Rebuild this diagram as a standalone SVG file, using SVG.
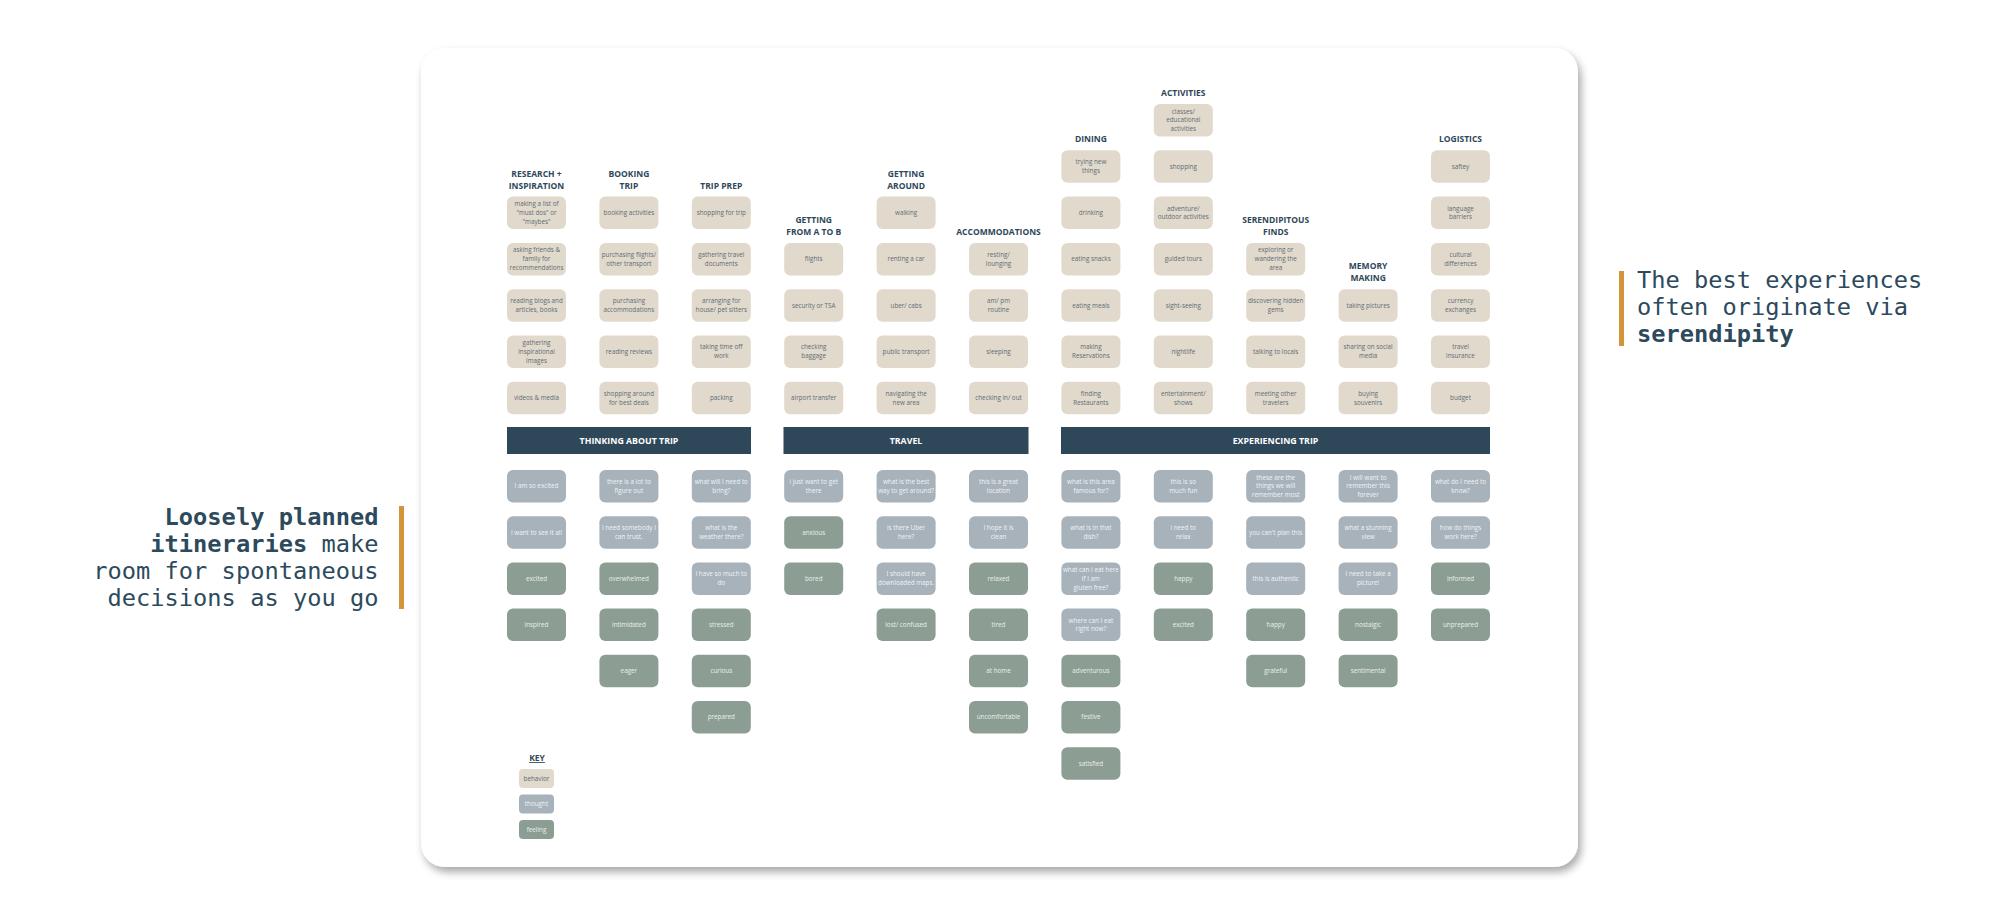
<svg xmlns="http://www.w3.org/2000/svg" width="2000" height="905" viewBox="0 0 2000 905">
<defs>
  <filter id="cardShadow" x="-5%" y="-5%" width="110%" height="112%">
    <feGaussianBlur in="SourceAlpha" stdDeviation="4"/>
    <feOffset dx="3" dy="5" result="blur"/>
    <feComponentTransfer><feFuncA type="linear" slope="0.35"/></feComponentTransfer>
    <feMerge><feMergeNode/><feMergeNode in="SourceGraphic"/></feMerge>
  </filter>
  <style>
    .bh { fill: #e1d9cc; }
    .th { fill: #a7b2ba; }
    .fe { fill: #8c9e94; }
    .bn { fill: #2e4759; }
    .tb { font-family: 'Open Sans', 'Liberation Sans', sans-serif; font-size: 6.3px; fill: #5e6d74; text-anchor: middle; }
    .tt { font-family: 'Open Sans', 'Liberation Sans', sans-serif; font-size: 6.3px; fill: #f1f3f5; text-anchor: middle; }
    .tf { font-family: 'Open Sans', 'Liberation Sans', sans-serif; font-size: 6.3px; fill: #e9eeeb; text-anchor: middle; }
    .hd { font-family: 'Open Sans', 'Liberation Sans', sans-serif; font-size: 8.5px; font-weight: 700; fill: #2e4759; text-anchor: middle; }
    .bt { font-family: 'Open Sans', 'Liberation Sans', sans-serif; font-size: 8.8px; font-weight: 700; fill: #ffffff; text-anchor: middle; }
    .mono { font-family: 'DejaVu Sans Mono', 'Liberation Mono', monospace; font-size: 23.7px; fill: #2c4a5c; }
    .b { font-weight: 700; }
    .bar { fill: #d4953a; }
  </style>
</defs>

<!-- side notes -->
<g id="note-left">
  <rect class="bar" x="399" y="506" width="5" height="103"/>
  <text class="mono" x="378.5" y="525" text-anchor="end"><tspan class="b">Loosely planned</tspan></text>
  <text class="mono" x="378.5" y="552" text-anchor="end"><tspan class="b">itineraries</tspan> make</text>
  <text class="mono" x="378.5" y="579" text-anchor="end">room for spontaneous</text>
  <text class="mono" x="378.5" y="606" text-anchor="end">decisions as you go</text>
</g>
<g id="note-right">
  <rect class="bar" x="1619" y="271" width="5" height="75"/>
  <text class="mono" x="1637" y="288">The best experiences</text>
  <text class="mono" x="1637" y="315">often originate via</text>
  <text class="mono" x="1637" y="342"><tspan class="b">serendipity</tspan></text>
</g>

<!-- card -->
<rect id="card" x="421" y="48" width="1157" height="819" rx="24" fill="#ffffff" filter="url(#cardShadow)"/>

<!-- column headers -->
<g id="headers">
  <text class="hd" x="536.5" y="176.6">RESEARCH +<tspan x="536.5" dy="12">INSPIRATION</tspan></text>
  <text class="hd" x="628.9" y="176.6">BOOKING<tspan x="628.9" dy="12">TRIP</tspan></text>
  <text class="hd" x="721.3" y="188.6">TRIP PREP</text>
  <text class="hd" x="813.7" y="222.9">GETTING<tspan x="813.7" dy="12">FROM A TO B</tspan></text>
  <text class="hd" x="906.1" y="176.6">GETTING<tspan x="906.1" dy="12">AROUND</tspan></text>
  <text class="hd" x="998.5" y="234.9">ACCOMMODATIONS</text>
  <text class="hd" x="1090.9" y="142.3">DINING</text>
  <text class="hd" x="1183.3" y="96">ACTIVITIES</text>
  <text class="hd" x="1275.7" y="222.9">SERENDIPITOUS<tspan x="1275.7" dy="12">FINDS</tspan></text>
  <text class="hd" x="1368.1" y="269.2">MEMORY<tspan x="1368.1" dy="12">MAKING</tspan></text>
  <text class="hd" x="1460.5" y="142.3">LOGISTICS</text>
</g>

<!-- behaviors: research + inspiration -->
<g id="b-research-1"><rect class="bh" x="507" y="196.6" width="59" height="32.5" rx="6"/><text class="tb" x="536.5" y="206.1">making a list of<tspan x="536.5" dy="8.8">"must dos" or</tspan><tspan x="536.5" dy="8.8">"maybes"</tspan></text></g>
<g id="b-research-2"><rect class="bh" x="507" y="242.9" width="59" height="32.5" rx="6"/><text class="tb" x="536.5" y="252.4">asking friends &amp;<tspan x="536.5" dy="8.8">family for</tspan><tspan x="536.5" dy="8.8">recommendations</tspan></text></g>
<g id="b-research-3"><rect class="bh" x="507" y="289.2" width="59" height="32.5" rx="6"/><text class="tb" x="536.5" y="303.1">reading blogs and<tspan x="536.5" dy="8.8">articles, books</tspan></text></g>
<g id="b-research-4"><rect class="bh" x="507" y="335.5" width="59" height="32.5" rx="6"/><text class="tb" x="536.5" y="345">gathering<tspan x="536.5" dy="8.8">inspirational</tspan><tspan x="536.5" dy="8.8">images</tspan></text></g>
<g id="b-research-5"><rect class="bh" x="507" y="381.8" width="59" height="32.5" rx="6"/><text class="tb" x="536.5" y="400.1">videos &amp; media</text></g>

<!-- behaviors: booking trip -->
<g id="b-booking-1"><rect class="bh" x="599.4" y="196.6" width="59" height="32.5" rx="6"/><text class="tb" x="628.9" y="214.9">booking activities</text></g>
<g id="b-booking-2"><rect class="bh" x="599.4" y="242.9" width="59" height="32.5" rx="6"/><text class="tb" x="628.9" y="256.8">purchasing flights/<tspan x="628.9" dy="8.8">other transport</tspan></text></g>
<g id="b-booking-3"><rect class="bh" x="599.4" y="289.2" width="59" height="32.5" rx="6"/><text class="tb" x="628.9" y="303.1">purchasing<tspan x="628.9" dy="8.8">accommodations</tspan></text></g>
<g id="b-booking-4"><rect class="bh" x="599.4" y="335.5" width="59" height="32.5" rx="6"/><text class="tb" x="628.9" y="353.8">reading reviews</text></g>
<g id="b-booking-5"><rect class="bh" x="599.4" y="381.8" width="59" height="32.5" rx="6"/><text class="tb" x="628.9" y="395.7">shopping around<tspan x="628.9" dy="8.8">for best deals</tspan></text></g>

<!-- behaviors: trip prep -->
<g id="b-prep-1"><rect class="bh" x="691.8" y="196.6" width="59" height="32.5" rx="6"/><text class="tb" x="721.3" y="214.9">shopping for trip</text></g>
<g id="b-prep-2"><rect class="bh" x="691.8" y="242.9" width="59" height="32.5" rx="6"/><text class="tb" x="721.3" y="256.8">gathering travel<tspan x="721.3" dy="8.8">documents</tspan></text></g>
<g id="b-prep-3"><rect class="bh" x="691.8" y="289.2" width="59" height="32.5" rx="6"/><text class="tb" x="721.3" y="303.1">arranging for<tspan x="721.3" dy="8.8">house/ pet sitters</tspan></text></g>
<g id="b-prep-4"><rect class="bh" x="691.8" y="335.5" width="59" height="32.5" rx="6"/><text class="tb" x="721.3" y="349.4">taking time off<tspan x="721.3" dy="8.8">work</tspan></text></g>
<g id="b-prep-5"><rect class="bh" x="691.8" y="381.8" width="59" height="32.5" rx="6"/><text class="tb" x="721.3" y="400.1">packing</text></g>

<!-- behaviors: getting from a to b -->
<g id="b-atob-1"><rect class="bh" x="784.2" y="242.9" width="59" height="32.5" rx="6"/><text class="tb" x="813.7" y="261.2">flights</text></g>
<g id="b-atob-2"><rect class="bh" x="784.2" y="289.2" width="59" height="32.5" rx="6"/><text class="tb" x="813.7" y="307.5">security or TSA</text></g>
<g id="b-atob-3"><rect class="bh" x="784.2" y="335.5" width="59" height="32.5" rx="6"/><text class="tb" x="813.7" y="349.4">checking<tspan x="813.7" dy="8.8">baggage</tspan></text></g>
<g id="b-atob-4"><rect class="bh" x="784.2" y="381.8" width="59" height="32.5" rx="6"/><text class="tb" x="813.7" y="400.1">airport transfer</text></g>

<!-- behaviors: getting around -->
<g id="b-around-1"><rect class="bh" x="876.6" y="196.6" width="59" height="32.5" rx="6"/><text class="tb" x="906.1" y="214.9">walking</text></g>
<g id="b-around-2"><rect class="bh" x="876.6" y="242.9" width="59" height="32.5" rx="6"/><text class="tb" x="906.1" y="261.2">renting a car</text></g>
<g id="b-around-3"><rect class="bh" x="876.6" y="289.2" width="59" height="32.5" rx="6"/><text class="tb" x="906.1" y="307.5">uber/ cabs</text></g>
<g id="b-around-4"><rect class="bh" x="876.6" y="335.5" width="59" height="32.5" rx="6"/><text class="tb" x="906.1" y="353.8">public transport</text></g>
<g id="b-around-5"><rect class="bh" x="876.6" y="381.8" width="59" height="32.5" rx="6"/><text class="tb" x="906.1" y="395.7">navigating  the<tspan x="906.1" dy="8.8">new area</tspan></text></g>

<!-- behaviors: accommodations -->
<g id="b-accom-1"><rect class="bh" x="969" y="242.9" width="59" height="32.5" rx="6"/><text class="tb" x="998.5" y="256.8">resting/<tspan x="998.5" dy="8.8">lounging</tspan></text></g>
<g id="b-accom-2"><rect class="bh" x="969" y="289.2" width="59" height="32.5" rx="6"/><text class="tb" x="998.5" y="303.1">am/ pm<tspan x="998.5" dy="8.8">routine</tspan></text></g>
<g id="b-accom-3"><rect class="bh" x="969" y="335.5" width="59" height="32.5" rx="6"/><text class="tb" x="998.5" y="353.8">sleeping</text></g>
<g id="b-accom-4"><rect class="bh" x="969" y="381.8" width="59" height="32.5" rx="6"/><text class="tb" x="998.5" y="400.1">checking in/ out</text></g>

<!-- behaviors: dining -->
<g id="b-dining-1"><rect class="bh" x="1061.4" y="150.3" width="59" height="32.5" rx="6"/><text class="tb" x="1090.9" y="164.2">trying new<tspan x="1090.9" dy="8.8">things</tspan></text></g>
<g id="b-dining-2"><rect class="bh" x="1061.4" y="196.6" width="59" height="32.5" rx="6"/><text class="tb" x="1090.9" y="214.9">drinking</text></g>
<g id="b-dining-3"><rect class="bh" x="1061.4" y="242.9" width="59" height="32.5" rx="6"/><text class="tb" x="1090.9" y="261.2">eating snacks</text></g>
<g id="b-dining-4"><rect class="bh" x="1061.4" y="289.2" width="59" height="32.5" rx="6"/><text class="tb" x="1090.9" y="307.5">eating meals</text></g>
<g id="b-dining-5"><rect class="bh" x="1061.4" y="335.5" width="59" height="32.5" rx="6"/><text class="tb" x="1090.9" y="349.4">making<tspan x="1090.9" dy="8.8">Reservations</tspan></text></g>
<g id="b-dining-6"><rect class="bh" x="1061.4" y="381.8" width="59" height="32.5" rx="6"/><text class="tb" x="1090.9" y="395.7">finding<tspan x="1090.9" dy="8.8">Restaurants</tspan></text></g>

<!-- behaviors: activities -->
<g id="b-activ-1"><rect class="bh" x="1153.8" y="104" width="59" height="32.5" rx="6"/><text class="tb" x="1183.3" y="113.5">classes/<tspan x="1183.3" dy="8.8">educational</tspan><tspan x="1183.3" dy="8.8">activities</tspan></text></g>
<g id="b-activ-2"><rect class="bh" x="1153.8" y="150.3" width="59" height="32.5" rx="6"/><text class="tb" x="1183.3" y="168.6">shopping</text></g>
<g id="b-activ-3"><rect class="bh" x="1153.8" y="196.6" width="59" height="32.5" rx="6"/><text class="tb" x="1183.3" y="210.5">adventure/<tspan x="1183.3" dy="8.8">outdoor activities</tspan></text></g>
<g id="b-activ-4"><rect class="bh" x="1153.8" y="242.9" width="59" height="32.5" rx="6"/><text class="tb" x="1183.3" y="261.2">guided tours</text></g>
<g id="b-activ-5"><rect class="bh" x="1153.8" y="289.2" width="59" height="32.5" rx="6"/><text class="tb" x="1183.3" y="307.5">sight-seeing</text></g>
<g id="b-activ-6"><rect class="bh" x="1153.8" y="335.5" width="59" height="32.5" rx="6"/><text class="tb" x="1183.3" y="353.8">nightlife</text></g>
<g id="b-activ-7"><rect class="bh" x="1153.8" y="381.8" width="59" height="32.5" rx="6"/><text class="tb" x="1183.3" y="395.7">entertainment/<tspan x="1183.3" dy="8.8">shows</tspan></text></g>

<!-- behaviors: serendipitous finds -->
<g id="b-seren-1"><rect class="bh" x="1246.2" y="242.9" width="59" height="32.5" rx="6"/><text class="tb" x="1275.7" y="252.4">exploring or<tspan x="1275.7" dy="8.8">wandering the</tspan><tspan x="1275.7" dy="8.8">area</tspan></text></g>
<g id="b-seren-2"><rect class="bh" x="1246.2" y="289.2" width="59" height="32.5" rx="6"/><text class="tb" x="1275.7" y="303.1">discovering hidden<tspan x="1275.7" dy="8.8">gems</tspan></text></g>
<g id="b-seren-3"><rect class="bh" x="1246.2" y="335.5" width="59" height="32.5" rx="6"/><text class="tb" x="1275.7" y="353.8">talking to locals</text></g>
<g id="b-seren-4"><rect class="bh" x="1246.2" y="381.8" width="59" height="32.5" rx="6"/><text class="tb" x="1275.7" y="395.7">meeting other<tspan x="1275.7" dy="8.8">travelers</tspan></text></g>

<!-- behaviors: memory making -->
<g id="b-memory-1"><rect class="bh" x="1338.6" y="289.2" width="59" height="32.5" rx="6"/><text class="tb" x="1368.1" y="307.5">taking pictures</text></g>
<g id="b-memory-2"><rect class="bh" x="1338.6" y="335.5" width="59" height="32.5" rx="6"/><text class="tb" x="1368.1" y="349.4">sharing on social<tspan x="1368.1" dy="8.8">media</tspan></text></g>
<g id="b-memory-3"><rect class="bh" x="1338.6" y="381.8" width="59" height="32.5" rx="6"/><text class="tb" x="1368.1" y="395.7">buying<tspan x="1368.1" dy="8.8">souvenirs</tspan></text></g>

<!-- behaviors: logistics -->
<g id="b-logis-1"><rect class="bh" x="1431" y="150.3" width="59" height="32.5" rx="6"/><text class="tb" x="1460.5" y="168.6">saftey</text></g>
<g id="b-logis-2"><rect class="bh" x="1431" y="196.6" width="59" height="32.5" rx="6"/><text class="tb" x="1460.5" y="210.5">language<tspan x="1460.5" dy="8.8">barriers</tspan></text></g>
<g id="b-logis-3"><rect class="bh" x="1431" y="242.9" width="59" height="32.5" rx="6"/><text class="tb" x="1460.5" y="256.8">cultural<tspan x="1460.5" dy="8.8">differences</tspan></text></g>
<g id="b-logis-4"><rect class="bh" x="1431" y="289.2" width="59" height="32.5" rx="6"/><text class="tb" x="1460.5" y="303.1">currency<tspan x="1460.5" dy="8.8">exchanges</tspan></text></g>
<g id="b-logis-5"><rect class="bh" x="1431" y="335.5" width="59" height="32.5" rx="6"/><text class="tb" x="1460.5" y="349.4">travel<tspan x="1460.5" dy="8.8">insurance</tspan></text></g>
<g id="b-logis-6"><rect class="bh" x="1431" y="381.8" width="59" height="32.5" rx="6"/><text class="tb" x="1460.5" y="400.1">budget</text></g>

<!-- phase banners -->
<g id="phase-thinking"><rect class="bn" x="507" y="427" width="244" height="27"/><text class="bt" x="629" y="443.6">THINKING ABOUT TRIP</text></g>
<g id="phase-travel"><rect class="bn" x="783.5" y="427" width="245" height="27"/><text class="bt" x="906" y="443.6">TRAVEL</text></g>
<g id="phase-experiencing"><rect class="bn" x="1061" y="427" width="429" height="27"/><text class="bt" x="1275.5" y="443.6">EXPERIENCING TRIP</text></g>

<!-- thoughts and feelings: thinking about trip -->
<g id="t-research-1"><rect class="th" x="507" y="470" width="59" height="32.5" rx="6"/><text class="tt" x="536.5" y="488.3">I am so excited</text></g>
<g id="t-research-2"><rect class="th" x="507" y="516.2" width="59" height="32.5" rx="6"/><text class="tt" x="536.5" y="534.5">I want to see it all</text></g>
<g id="f-research-1"><rect class="fe" x="507" y="562.4" width="59" height="32.5" rx="6"/><text class="tf" x="536.5" y="580.7">excited</text></g>
<g id="f-research-2"><rect class="fe" x="507" y="608.6" width="59" height="32.5" rx="6"/><text class="tf" x="536.5" y="626.9">inspired</text></g>

<g id="t-booking-1"><rect class="th" x="599.4" y="470" width="59" height="32.5" rx="6"/><text class="tt" x="628.9" y="483.9">there is a lot to<tspan x="628.9" dy="8.8">figure out</tspan></text></g>
<g id="t-booking-2"><rect class="th" x="599.4" y="516.2" width="59" height="32.5" rx="6"/><text class="tt" x="628.9" y="530.1">I need somebody I<tspan x="628.9" dy="8.8">can trust.</tspan></text></g>
<g id="f-booking-1"><rect class="fe" x="599.4" y="562.4" width="59" height="32.5" rx="6"/><text class="tf" x="628.9" y="580.7">overwhelmed</text></g>
<g id="f-booking-2"><rect class="fe" x="599.4" y="608.6" width="59" height="32.5" rx="6"/><text class="tf" x="628.9" y="626.9">intimidated</text></g>
<g id="f-booking-3"><rect class="fe" x="599.4" y="654.8" width="59" height="32.5" rx="6"/><text class="tf" x="628.9" y="673.1">eager</text></g>

<g id="t-prep-1"><rect class="th" x="691.8" y="470" width="59" height="32.5" rx="6"/><text class="tt" x="721.3" y="483.9">what will I need to<tspan x="721.3" dy="8.8">bring?</tspan></text></g>
<g id="t-prep-2"><rect class="th" x="691.8" y="516.2" width="59" height="32.5" rx="6"/><text class="tt" x="721.3" y="530.1">what is the<tspan x="721.3" dy="8.8">weather there?</tspan></text></g>
<g id="t-prep-3"><rect class="th" x="691.8" y="562.4" width="59" height="32.5" rx="6"/><text class="tt" x="721.3" y="576.3">I have so much to<tspan x="721.3" dy="8.8">do</tspan></text></g>
<g id="f-prep-1"><rect class="fe" x="691.8" y="608.6" width="59" height="32.5" rx="6"/><text class="tf" x="721.3" y="626.9">stressed</text></g>
<g id="f-prep-2"><rect class="fe" x="691.8" y="654.8" width="59" height="32.5" rx="6"/><text class="tf" x="721.3" y="673.1">curious</text></g>
<g id="f-prep-3"><rect class="fe" x="691.8" y="701" width="59" height="32.5" rx="6"/><text class="tf" x="721.3" y="719.3">prepared</text></g>

<!-- thoughts and feelings: travel -->
<g id="t-atob-1"><rect class="th" x="784.2" y="470" width="59" height="32.5" rx="6"/><text class="tt" x="813.7" y="483.9">i just want to get<tspan x="813.7" dy="8.8">there</tspan></text></g>
<g id="f-atob-1"><rect class="fe" x="784.2" y="516.2" width="59" height="32.5" rx="6"/><text class="tf" x="813.7" y="534.5">anxious</text></g>
<g id="f-atob-2"><rect class="fe" x="784.2" y="562.4" width="59" height="32.5" rx="6"/><text class="tf" x="813.7" y="580.7">bored</text></g>

<g id="t-around-1"><rect class="th" x="876.6" y="470" width="59" height="32.5" rx="6"/><text class="tt" x="906.1" y="483.9">what is the best<tspan x="906.1" dy="8.8">way to get around?</tspan></text></g>
<g id="t-around-2"><rect class="th" x="876.6" y="516.2" width="59" height="32.5" rx="6"/><text class="tt" x="906.1" y="530.1">is there Uber<tspan x="906.1" dy="8.8">here?</tspan></text></g>
<g id="t-around-3"><rect class="th" x="876.6" y="562.4" width="59" height="32.5" rx="6"/><text class="tt" x="906.1" y="576.3">I should have<tspan x="906.1" dy="8.8">downloaded maps.</tspan></text></g>
<g id="f-around-1"><rect class="fe" x="876.6" y="608.6" width="59" height="32.5" rx="6"/><text class="tf" x="906.1" y="626.9">lost/ confused</text></g>

<g id="t-accom-1"><rect class="th" x="969" y="470" width="59" height="32.5" rx="6"/><text class="tt" x="998.5" y="483.9">this is a great<tspan x="998.5" dy="8.8">location</tspan></text></g>
<g id="t-accom-2"><rect class="th" x="969" y="516.2" width="59" height="32.5" rx="6"/><text class="tt" x="998.5" y="530.1">I hope it is<tspan x="998.5" dy="8.8">clean</tspan></text></g>
<g id="f-accom-1"><rect class="fe" x="969" y="562.4" width="59" height="32.5" rx="6"/><text class="tf" x="998.5" y="580.7">relaxed</text></g>
<g id="f-accom-2"><rect class="fe" x="969" y="608.6" width="59" height="32.5" rx="6"/><text class="tf" x="998.5" y="626.9">tired</text></g>
<g id="f-accom-3"><rect class="fe" x="969" y="654.8" width="59" height="32.5" rx="6"/><text class="tf" x="998.5" y="673.1">at home</text></g>
<g id="f-accom-4"><rect class="fe" x="969" y="701" width="59" height="32.5" rx="6"/><text class="tf" x="998.5" y="719.3">uncomfortable</text></g>

<!-- thoughts and feelings: experiencing trip -->
<g id="t-dining-1"><rect class="th" x="1061.4" y="470" width="59" height="32.5" rx="6"/><text class="tt" x="1090.9" y="483.9">what is this area<tspan x="1090.9" dy="8.8">famous for?</tspan></text></g>
<g id="t-dining-2"><rect class="th" x="1061.4" y="516.2" width="59" height="32.5" rx="6"/><text class="tt" x="1090.9" y="530.1">what is in that<tspan x="1090.9" dy="8.8">dish?</tspan></text></g>
<g id="t-dining-3"><rect class="th" x="1061.4" y="562.4" width="59" height="32.5" rx="6"/><text class="tt" x="1090.9" y="571.9">what can I eat here<tspan x="1090.9" dy="8.8">if I am</tspan><tspan x="1090.9" dy="8.8">gluten free?</tspan></text></g>
<g id="t-dining-4"><rect class="th" x="1061.4" y="608.6" width="59" height="32.5" rx="6"/><text class="tt" x="1090.9" y="622.5">where can I eat<tspan x="1090.9" dy="8.8">right now?</tspan></text></g>
<g id="f-dining-1"><rect class="fe" x="1061.4" y="654.8" width="59" height="32.5" rx="6"/><text class="tf" x="1090.9" y="673.1">adventurous</text></g>
<g id="f-dining-2"><rect class="fe" x="1061.4" y="701" width="59" height="32.5" rx="6"/><text class="tf" x="1090.9" y="719.3">festive</text></g>
<g id="f-dining-3"><rect class="fe" x="1061.4" y="747.2" width="59" height="32.5" rx="6"/><text class="tf" x="1090.9" y="765.5">satisfied</text></g>

<g id="t-activ-1"><rect class="th" x="1153.8" y="470" width="59" height="32.5" rx="6"/><text class="tt" x="1183.3" y="483.9">this is so<tspan x="1183.3" dy="8.8">much fun</tspan></text></g>
<g id="t-activ-2"><rect class="th" x="1153.8" y="516.2" width="59" height="32.5" rx="6"/><text class="tt" x="1183.3" y="530.1">i need to<tspan x="1183.3" dy="8.8">relax</tspan></text></g>
<g id="f-activ-1"><rect class="fe" x="1153.8" y="562.4" width="59" height="32.5" rx="6"/><text class="tf" x="1183.3" y="580.7">happy</text></g>
<g id="f-activ-2"><rect class="fe" x="1153.8" y="608.6" width="59" height="32.5" rx="6"/><text class="tf" x="1183.3" y="626.9">excited</text></g>

<g id="t-seren-1"><rect class="th" x="1246.2" y="470" width="59" height="32.5" rx="6"/><text class="tt" x="1275.7" y="479.5">these are the<tspan x="1275.7" dy="8.8">things we will</tspan><tspan x="1275.7" dy="8.8">remember most</tspan></text></g>
<g id="t-seren-2"><rect class="th" x="1246.2" y="516.2" width="59" height="32.5" rx="6"/><text class="tt" x="1275.7" y="534.5">you can't plan this</text></g>
<g id="t-seren-3"><rect class="th" x="1246.2" y="562.4" width="59" height="32.5" rx="6"/><text class="tt" x="1275.7" y="580.7">this is authentic</text></g>
<g id="f-seren-1"><rect class="fe" x="1246.2" y="608.6" width="59" height="32.5" rx="6"/><text class="tf" x="1275.7" y="626.9">happy</text></g>
<g id="f-seren-2"><rect class="fe" x="1246.2" y="654.8" width="59" height="32.5" rx="6"/><text class="tf" x="1275.7" y="673.1">grateful</text></g>

<g id="t-memory-1"><rect class="th" x="1338.6" y="470" width="59" height="32.5" rx="6"/><text class="tt" x="1368.1" y="479.5">I will want to<tspan x="1368.1" dy="8.8">remember this</tspan><tspan x="1368.1" dy="8.8">forever</tspan></text></g>
<g id="t-memory-2"><rect class="th" x="1338.6" y="516.2" width="59" height="32.5" rx="6"/><text class="tt" x="1368.1" y="530.1">what a stunning<tspan x="1368.1" dy="8.8">view</tspan></text></g>
<g id="t-memory-3"><rect class="th" x="1338.6" y="562.4" width="59" height="32.5" rx="6"/><text class="tt" x="1368.1" y="576.3">I need to take a<tspan x="1368.1" dy="8.8">picture!</tspan></text></g>
<g id="f-memory-1"><rect class="fe" x="1338.6" y="608.6" width="59" height="32.5" rx="6"/><text class="tf" x="1368.1" y="626.9">nostalgic</text></g>
<g id="f-memory-2"><rect class="fe" x="1338.6" y="654.8" width="59" height="32.5" rx="6"/><text class="tf" x="1368.1" y="673.1">sentimental</text></g>

<g id="t-logis-1"><rect class="th" x="1431" y="470" width="59" height="32.5" rx="6"/><text class="tt" x="1460.5" y="483.9">what do I need to<tspan x="1460.5" dy="8.8">know?</tspan></text></g>
<g id="t-logis-2"><rect class="th" x="1431" y="516.2" width="59" height="32.5" rx="6"/><text class="tt" x="1460.5" y="530.1">how do things<tspan x="1460.5" dy="8.8">work here?</tspan></text></g>
<g id="f-logis-1"><rect class="fe" x="1431" y="562.4" width="59" height="32.5" rx="6"/><text class="tf" x="1460.5" y="580.7">informed</text></g>
<g id="f-logis-2"><rect class="fe" x="1431" y="608.6" width="59" height="32.5" rx="6"/><text class="tf" x="1460.5" y="626.9">unprepared</text></g>

<!-- key -->
<g id="key">
  <text class="hd" x="537" y="761" font-size="7.5" text-decoration="underline">KEY</text>
  <rect class="bh" x="519" y="769" width="35" height="19" rx="4"/><text class="tb" x="536.5" y="780.5" font-size="5.5">behavior</text>
  <rect class="th" x="519" y="794.5" width="35" height="19" rx="4"/><text class="tt" x="536.5" y="806" font-size="5.5">thought</text>
  <rect class="fe" x="519" y="820" width="35" height="19" rx="4"/><text class="tf" x="536.5" y="831.5" font-size="5.5">feeling</text>
</g>

<!-- no connectors in this layout -->
<g id="connectors"/>
</svg>
